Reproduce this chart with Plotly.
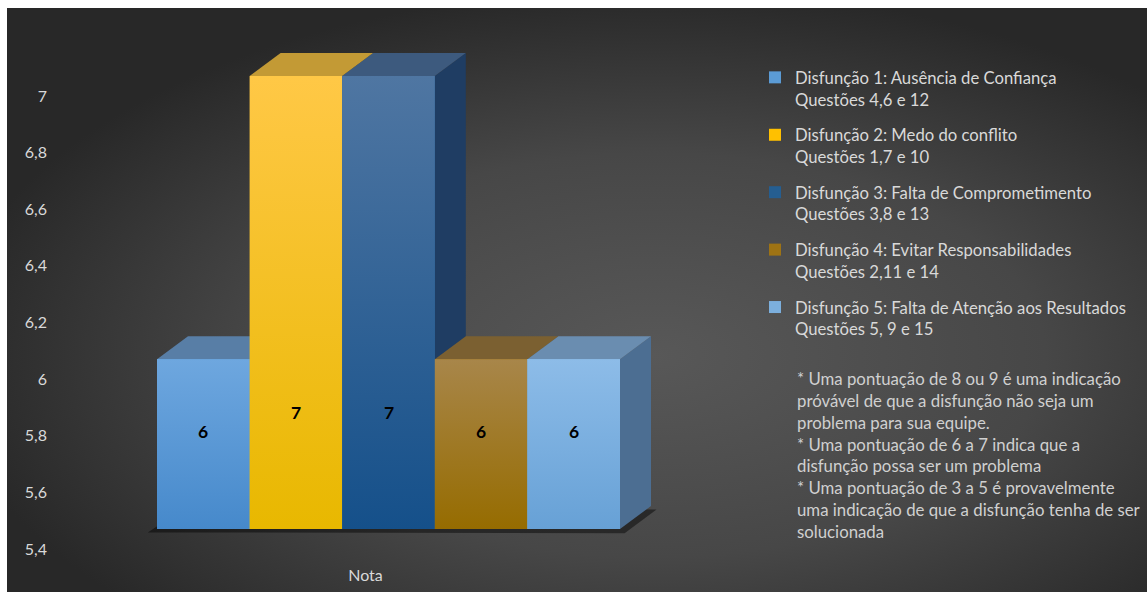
import base64
import plotly.graph_objects as go

# ---------------- data ----------------
categories = ["Nota"]
series_names = [
    "Disfunção 1: Ausência de Confiança<br>Questões 4,6 e 12",
    "Disfunção 2: Medo do conflito<br>Questões 1,7 e 10",
    "Disfunção 3: Falta de Comprometimento<br>Questões 3,8 e 13",
    "Disfunção 4: Evitar Responsabilidades<br>Questões 2,11 e 14",
    "Disfunção 5: Falta de Atenção aos Resultados<br>Questões 5, 9 e 15",
]
series_values = [6, 7, 7, 6, 6]
y_ticks = [5.4, 5.6, 5.8, 6.0, 6.2, 6.4, 6.6, 6.8, 7.0]
y_tick_labels = ["5,4", "5,6", "5,8", "6", "6,2", "6,4", "6,6", "6,8", "7"]
note_lines = [
    "* Uma pontuação de 8 ou 9 é uma indicação",
    "próvável de que a disfunção não seja um",
    "problema para sua equipe.",
    "* Uma pontuação de 6 a 7 indica que a",
    "disfunção possa ser um problema",
    "* Uma pontuação de 3 a 5 é provavelmente",
    "uma indicação de que a disfunção tenha de ser",
    "solucionada",
]

# ---------------- styles ----------------
legend_colors = ["#5b9bd5", "#ffc000", "#255e91", "#9e7314", "#7cafdd"]
front_top = ["#6ea7df", "#ffc846", "#4f76a2", "#a8864a", "#8dbce8"]
front_bottom = ["#4689cb", "#e8b800", "#15508a", "#966c00", "#67a1d6"]
top_colors = ["#587ea6", "#c39a35", "#3d5a7e", "#7b6031", "#6a8db0"]
side_colors = ["#3f6288", "#9a7818", "#1f3d63", "#5e4a1c", "#4c6e92"]
FONT = "Lato, Open Sans, sans-serif"

W, H = 1147, 592
L, R, T, B = 60, 700, 45, 545          # plot area in pixels
BASE = 5.4                              # value-axis minimum (floor)
front_left_px, front_right_px = 157, 620
floor_px, top_px = 529, 76               # pixel rows of BASE and 7
px_per_x = (front_right_px - front_left_px) / 1.0
px_per_y = (floor_px - top_px) / (7 - BASE)
xmin = -0.5 - (front_left_px - L) / px_per_x
xmax = -0.5 + (R - front_left_px) / px_per_x
ymin = BASE - (B - floor_px) / px_per_y
ymax = BASE + (floor_px - T) / px_per_y
DX = 31 / px_per_x
DY = 23 / px_per_y


def px_x(p):
    return (p - L) / (R - L)


def px_y(p):
    return (B - p) / (B - T)


n = len(series_values)
bw = 1.0 / n

fig = go.Figure()
for i, (name, v) in enumerate(zip(series_names, series_values)):
    fig.add_trace(go.Bar(
        x=categories, y=[v - BASE], base=BASE, name=name,
        marker=dict(color=legend_colors[i], line=dict(width=0)),
        legendgroup=f"g{i}", hovertemplate=f"{v}<extra></extra>",
    ))

# vertical gradient shading of each bar's front face (numeric overlay axis)
for i, v in enumerate(series_values):
    xl = -0.5 + i * bw
    xr = xl + bw
    fig.add_trace(go.Scatter(
        x=[xl, xr, xr, xl, xl], y=[BASE, BASE, v, v, BASE], xaxis="x2",
        mode="lines", line=dict(width=0), fill="toself",
        fillgradient=dict(type="vertical", start=BASE, stop=v,
                          colorscale=[[0, front_bottom[i]], [1, front_top[i]]]),
        showlegend=False, hoverinfo="skip",
    ))

shapes = []
# white strips at top and left edge
shapes.append(dict(type="rect", xref="paper", yref="paper",
                   x0=px_x(0), x1=px_x(W), y0=px_y(0), y1=px_y(8),
                   fillcolor="white", line=dict(width=0), layer="above"))
shapes.append(dict(type="rect", xref="paper", yref="paper",
                   x0=px_x(0), x1=px_x(7), y0=px_y(H), y1=px_y(0),
                   fillcolor="white", line=dict(width=0), layer="above"))

# floor shadow
x_left, x_right = -0.5, 0.5
shapes.append(dict(type="path", xref="x", yref="y", layer="below",
                   path=(f"M{x_left - 0.02},{BASE - 0.012} L{x_right + 0.01},{BASE - 0.015} "
                         f"L{x_right + DX + 0.012},{BASE + DY - 0.012} L{x_left + DX},{BASE + DY} Z"),
                   fillcolor="rgba(0,0,0,0.45)", line=dict(width=0)))

for i, v in enumerate(series_values):
    xl = -0.5 + i * bw
    xr = xl + bw
    shapes.append(dict(type="path", xref="x", yref="y", layer="below",
                       path=f"M{xr},{BASE} L{xr},{v} L{xr + DX},{v + DY} L{xr + DX},{BASE + DY} Z",
                       fillcolor=side_colors[i], line=dict(width=0)))
    shapes.append(dict(type="path", xref="x", yref="y", layer="below",
                       path=f"M{xl},{v} L{xr},{v} L{xr + DX},{v + DY} L{xl + DX},{v + DY} Z",
                       fillcolor=top_colors[i], line=dict(width=0)))

# data labels
annotations = []
for i, v in enumerate(series_values):
    xc = -0.5 + (i + 0.5) * bw
    annotations.append(dict(x=xc, y=5.81 if v == 7 else 5.745, xref="x", yref="y",
                            text=f"<b>{v}</b>", showarrow=False,
                            font=dict(family=FONT, size=17.5, color="black")))

# note text
annotations.append(dict(
    xref="paper", yref="paper",
    x=px_x(795), y=px_y(366), xanchor="left", yanchor="top",
    align="left", showarrow=False,
    text="<br>".join(note_lines),
    font=dict(family=FONT, size=16.8, color="#d0d0d0"),
))

# background radial gradient image
svg = (
    "<svg xmlns='http://www.w3.org/2000/svg' width='1147' height='592' viewBox='0 0 1147 592'>"
    "<defs><radialGradient id='g' cx='0.57' cy='0.6' r='0.62'>"
    "<stop offset='0' stop-color='#585858'/>"
    "<stop offset='0.55' stop-color='#474747'/>"
    "<stop offset='1' stop-color='#282828'/>"
    "</radialGradient></defs>"
    "<rect width='1147' height='592' fill='url(#g)'/></svg>"
)
src = "data:image/svg+xml;base64," + base64.b64encode(svg.encode()).decode()

fig.update_layout(
    width=W, height=H,
    margin=dict(l=L, r=W - R, t=T, b=H - B, pad=0, autoexpand=False),
    paper_bgcolor="#3a3a3a",
    plot_bgcolor="rgba(0,0,0,0)",
    barmode="group", bargap=0, bargroupgap=0,
    showlegend=True,
    legend=dict(
        x=px_x(755), y=px_y(60), xanchor="left", yanchor="top",
        font=dict(family=FONT, size=16.7, color="#d9d9d9"),
        bgcolor="rgba(0,0,0,0)", valign="top", tracegroupgap=11,
        itemwidth=30, traceorder="grouped",
    ),
    shapes=shapes,
    annotations=annotations,
    images=[dict(source=src, xref="paper", yref="paper",
                 x=px_x(0), y=px_y(0), sizex=W / (R - L), sizey=H / (B - T),
                 xanchor="left", yanchor="top", sizing="stretch", layer="below")],
    xaxis=dict(range=[xmin, xmax], showgrid=False, zeroline=False, showline=False,
               ticks="", automargin=False,
               tickfont=dict(family=FONT, size=16, color="#d9d9d9"),
               ticklabelshift=-23, ticklabelstandoff=19, fixedrange=True),
    xaxis2=dict(range=[xmin, xmax], type="linear", overlaying="x", visible=False,
                showgrid=False, zeroline=False, fixedrange=True),
    yaxis=dict(range=[ymin, ymax], tickvals=y_ticks, ticktext=y_tick_labels,
               showgrid=False, zeroline=False, showline=False, ticks="", automargin=False,
               tickfont=dict(family=FONT, size=16, color="#d9d9d9"),
               ticklabelshift=20, ticklabelstandoff=12, fixedrange=True),
)

fig.write_html(
    "out.html",
    config={"displayModeBar": False},
    post_script="document.body.style.margin='0';document.body.style.overflow='hidden';",
)
